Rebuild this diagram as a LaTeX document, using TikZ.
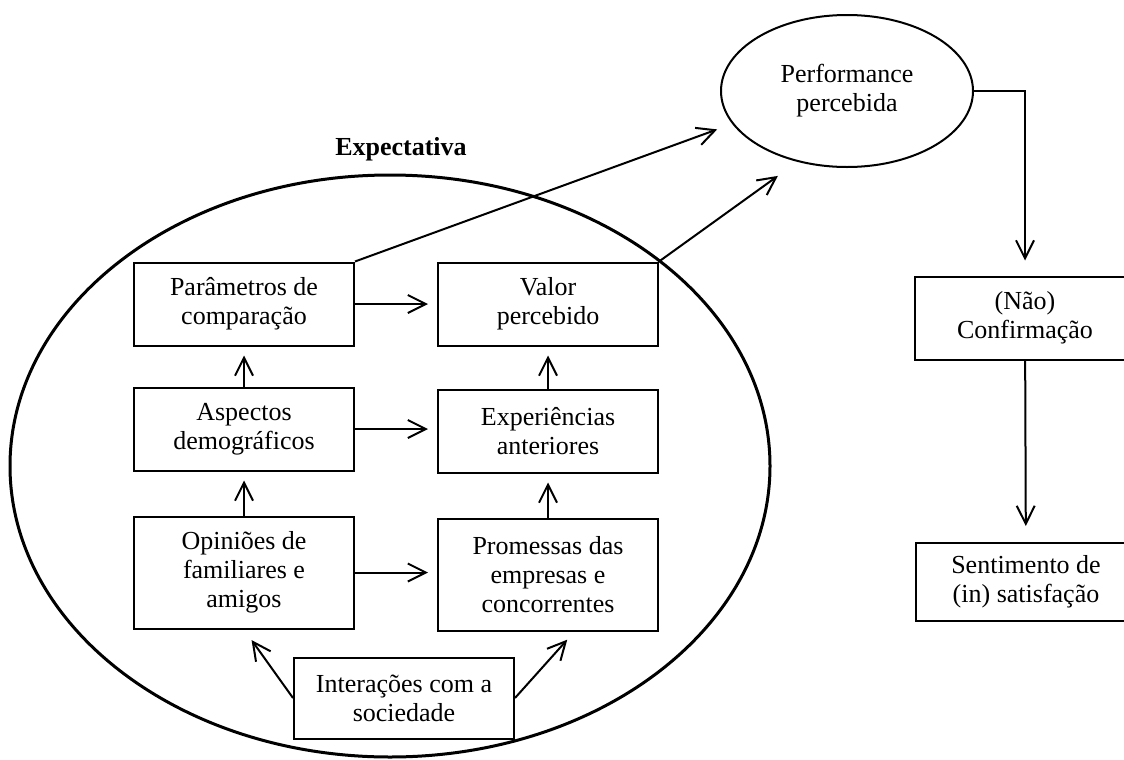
\documentclass[tikz,border=0pt]{standalone}
\usepackage{fontspec}
\setmainfont{Liberation Serif}
\usetikzlibrary{arrows.meta,positioning,shapes}

\begin{document}
\begin{tikzpicture}[
            x=0.5pt,y=-0.5pt,
            font=\fontsize{13}{14.5}\selectfont,
            box/.style={draw,rectangle,line width=1pt,minimum width=110pt,minimum height=41.5pt,align=center,inner sep=2pt},
            tallbox/.style={box,minimum height=56pt},
            perfnode/.style={draw,ellipse,line width=1pt,minimum width=126pt,minimum height=76pt,align=center},
            arr/.style={draw,line width=1pt,-{Straight Barb[length=9pt,width=9pt]},shorten >=4.5pt}
          ]
          \useasboundingbox (0,0) rectangle (1124,760);

          %expectativa
          \draw[line width=1.5pt] (390,466) ellipse (190pt and 145.5pt);
          \node[font=\bfseries\fontsize{13}{14.5}\selectfont] (expt) at (401,149) {Expectativa};

          %left column
          \node[box] (par) at (244,304) {Parâmetros de\\comparação};
          \node[box,below=20pt of par] (asp) {Aspectos\\demográficos};
          \node[tallbox,below=22pt of asp] (opi) {Opiniões de\\familiares e\\amigos};

          %right column
          \node[box] (val) at (548,304) {Valor\\percebido};
          \node[box,below=21pt of val] (exp) {Experiências\\anteriores};
          \node[tallbox,below=22pt of exp] (pro) {Promessas das\\empresas e\\concorrentes};

          \node[box,minimum height=40.5pt] (int) at (404,698) {Interações com a\\sociedade};

          %outcome
          \node[perfnode] (perf) at (847,91) {Performance\\percebida};
          \node[box] (conf) at (1025,318) {(Não)\\Confirmação};
          \node[box,minimum height=39pt] (sent) at (1026,582) {Sentimento de\\(in) satisfação};

          \path[arr] (par) -- (val);
          \path[arr] (asp.east) -- (asp.east -| exp.west);
          \path[arr] (opi.east) -- (opi.east -| pro.west);
          \path[arr] (asp) -- (par);
          \path[arr] (opi) -- (asp);
          \path[arr] (exp) -- (val);
          \path[arr] (pro) -- (exp);
          \path[arr,shorten >=6.5pt] (int.west) -- (opi.south);
          \path[arr,shorten >=5.5pt] (int.east) -- (pro.-65);
          \path[arr,shorten >=8pt] (par.north east) -- (perf.196);
          \path[arr,shorten >=12pt] (val.north east) -- (perf.235);
          \path[arr,shorten >=7.5pt] (perf.east) -| (conf.north);
          \path[arr,shorten >=8pt] (conf) -- (sent);
      \end{tikzpicture}
\end{document}
